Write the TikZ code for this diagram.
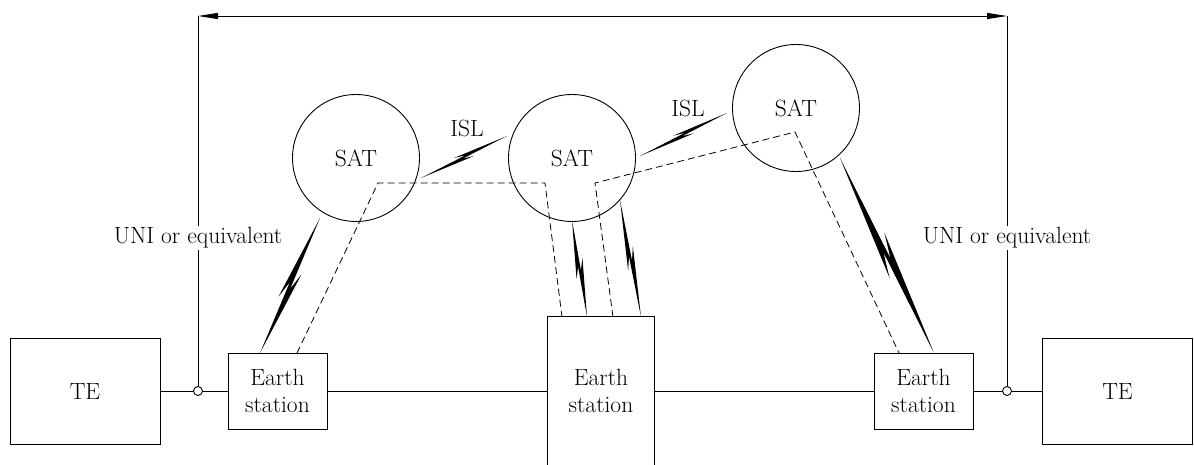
\documentclass[tikz,border=0pt]{standalone}
\usepackage{tikz}
\usetikzlibrary{arrows.meta, positioning, calc}

% lightning symbol: #1 half width, #2 start, #3 end
\newcommand{\bolt}[3]{%
  \fill (#2) -- ($(#2)!0.52!(#3)!{0.25*#1}!90:(#3)$)
             -- ($(#2)!0.40!(#3)!#1!90:(#3)$)
             -- (#3)
             -- ($(#2)!0.48!(#3)!{0.25*#1}!-90:(#3)$)
             -- ($(#2)!0.60!(#3)!#1!-90:(#3)$) -- cycle;}

\begin{document}
\begin{tikzpicture}[
    x=1pt, y=-1pt,
    font=\rmfamily\fontsize{23.5}{27.5}\selectfont,
    line width=0.9pt,
    box/.style={rectangle, draw, align=center, inner sep=0pt},
    terminal/.style={box, minimum width=150pt, minimum height=106pt},
    station/.style={box, minimum width=99pt, minimum height=76pt},
    sat/.style={circle, draw, minimum size=127pt, inner sep=0pt},
    junction/.style={circle, draw, fill=white, minimum size=9pt, inner sep=0pt},
    link/.style={dash pattern=on 7pt off 4pt, line width=0.8pt},
    iface/.style={fill=white, inner sep=2pt},
    span/.style={{Triangle[length=20pt,width=6pt]}-{Triangle[length=20pt,width=6pt]}}
]
\useasboundingbox (0,0) rectangle (1194,465);

% Terminals and earth stations
\node[terminal] (te1) at (85,391) {TE};
\node[station] (es1) at (277.5,391) {Earth\\station};
\node[station, draw=none, minimum width=106pt, minimum height=148pt] (es2) at (601,391) {Earth\\station};
\node[station] (es3) at (923.5,391) {Earth\\station};
\node[terminal] (te2) at (1117.5,391) {TE};
\draw (es2.south west) -- (es2.north west) -- (es2.north east) -- (es2.south east);

% Interface points
\node[junction] (c1) at (198,391) {};
\node[junction] (c2) at (1007,391) {};

% Satellites
\node[sat] (s1) at (356,158) {SAT};
\node[sat] (s2) at (572,158) {SAT};
\node[sat] (s3) at (796,108) {SAT};
\node (isl1) at (467,128) {ISL};
\node (isl2) at (688,108) {ISL};

% Terrestrial chain
\draw (te1) -- (c1) -- (es1);
\draw (es1) -- (es2);
\draw (es2) -- (es3);
\draw (es3) -- (c2) -- (te2);

% Reference span
\coordinate (top1) at (198,16);
\coordinate (top2) at (1007,16);
\draw (c1) -- (top1);
\draw (c2) -- (top2);
\draw[span] (top1) -- (top2);
\node[iface] (uni1) at (198,238) {UNI or equivalent};
\node[iface] (uni2) at (1007,238) {UNI or equivalent};

% Connection paths
\coordinate (p1) at (297,353);
\coordinate (p2) at (378,183);
\coordinate (p3) at (545,183);
\coordinate (p4) at (562,317);
\coordinate (q1) at (613,317);
\coordinate (q2) at (595,183);
\coordinate (q3) at (795,132);
\coordinate (q4) at (899,353);
\draw[link] (p1) -- (p2) -- (p3) -- (p4);
\draw[link] (q1) -- (q2) -- (q3) -- (q4);

% Radio links
\coordinate (r1a) at (320,218); \coordinate (r1b) at (260,353);
\coordinate (r2a) at (421,178); \coordinate (r2b) at (507,136);
\coordinate (r3a) at (640,156); \coordinate (r3b) at (727,113);
\coordinate (r4a) at (572,220); \coordinate (r4b) at (587,317);
\coordinate (r5a) at (620,200); \coordinate (r5b) at (641,317);
\coordinate (r6a) at (840,158); \coordinate (r6b) at (934,353);
\bolt{6pt}{r1a}{r1b}
\bolt{3.5pt}{r2a}{r2b}
\bolt{3.5pt}{r3a}{r3b}
\bolt{4.5pt}{r4a}{r4b}
\bolt{4.5pt}{r5a}{r5b}
\bolt{7.5pt}{r6a}{r6b}

\end{tikzpicture}
\end{document}
